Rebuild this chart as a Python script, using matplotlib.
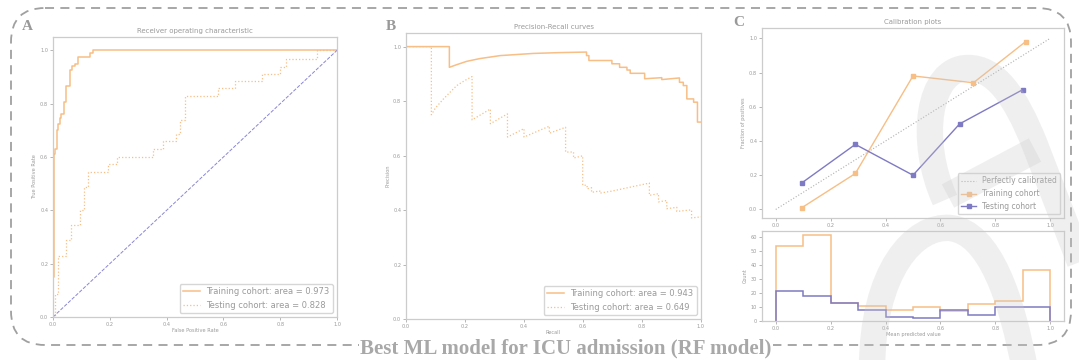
import matplotlib
matplotlib.use("Agg")
import matplotlib.pyplot as plt
from matplotlib.patches import FancyBboxPatch, PathPatch
from matplotlib.path import Path

# ROC data
roc_train_fpr = [0, 0, 0.0035, 0.0035, 0.008, 0.008, 0.015, 0.015, 0.018, 0.018, 0.026, 0.026, 0.029, 0.029,
                 0.039, 0.039, 0.047, 0.047, 0.059, 0.059, 0.067, 0.067, 0.079, 0.079, 0.088, 0.088,
                 0.13, 0.13, 0.141, 0.141, 0.224, 0.224, 1.0]
roc_train_tpr = [0, 0.15, 0.15, 0.611, 0.611, 0.63, 0.63, 0.70, 0.70, 0.725, 0.725, 0.746, 0.746, 0.76,
                 0.76, 0.806, 0.806, 0.866, 0.866, 0.925, 0.925, 0.94, 0.94, 0.95, 0.95, 0.975,
                 0.975, 0.99, 0.99, 1.0, 1.0, 1.0, 1.0]
roc_test_fpr = [0, 0.008, 0.008, 0.018, 0.018, 0.047, 0.047, 0.062, 0.062, 0.094, 0.094, 0.11, 0.11,
                0.124, 0.124, 0.192, 0.192, 0.224, 0.224, 0.353, 0.353, 0.389, 0.389, 0.434, 0.434,
                0.448, 0.448, 0.465, 0.465, 0.58, 0.58, 0.642, 0.642, 0.736, 0.736, 0.80, 0.80,
                0.819, 0.819, 0.93, 0.93, 1.0]
roc_test_tpr = [0, 0, 0.088, 0.088, 0.23, 0.23, 0.287, 0.287, 0.344, 0.344, 0.40, 0.40, 0.487, 0.487,
                0.543, 0.543, 0.574, 0.574, 0.60, 0.60, 0.63, 0.63, 0.66, 0.66, 0.686, 0.686, 0.74,
                0.74, 0.83, 0.83, 0.86, 0.86, 0.886, 0.886, 0.913, 0.913, 0.938, 0.938, 0.969,
                0.969, 1.0, 1.0]
roc_train_auc = 0.973
roc_test_auc = 0.828

# PR data
pr_train_rec = [0, 0.147, 0.147, 0.17, 0.206, 0.25, 0.319, 0.432, 0.52, 0.612, 0.612, 0.62, 0.62,
                0.698, 0.698, 0.724, 0.724, 0.749, 0.749, 0.76, 0.76, 0.809, 0.809, 0.867, 0.867,
                0.927, 0.927, 0.94, 0.94, 0.952, 0.952, 0.975, 0.975, 0.988, 0.988, 1.0]
pr_train_prec = [1.0, 1.0, 0.924, 0.933, 0.946, 0.956, 0.967, 0.975, 0.978, 0.980, 0.967, 0.967, 0.949,
                 0.949, 0.937, 0.937, 0.924, 0.924, 0.914, 0.914, 0.902, 0.902, 0.882, 0.886, 0.879,
                 0.885, 0.869, 0.869, 0.857, 0.857, 0.808, 0.808, 0.796, 0.796, 0.723, 0.723]
pr_test_rec = [0, 0.086, 0.086, 0.1, 0.127, 0.172, 0.2, 0.224, 0.224, 0.286, 0.286, 0.344, 0.344,
               0.40, 0.40, 0.486, 0.486, 0.541, 0.541, 0.568, 0.568, 0.599, 0.599, 0.614, 0.614,
               0.629, 0.629, 0.657, 0.657, 0.70, 0.743, 0.786, 0.825, 0.825, 0.856, 0.856, 0.884,
               0.884, 0.918, 0.918, 0.962, 0.968, 0.968, 1.0]
pr_test_prec = [1.0, 1.0, 0.75, 0.775, 0.808, 0.857, 0.876, 0.89, 0.731, 0.771, 0.717, 0.753, 0.668,
                0.699, 0.668, 0.708, 0.682, 0.704, 0.613, 0.613, 0.591, 0.599, 0.491, 0.491, 0.478,
                0.482, 0.465, 0.47, 0.462, 0.47, 0.48, 0.49, 0.499, 0.454, 0.46, 0.43, 0.435, 0.405,
                0.41, 0.395, 0.40, 0.40, 0.371, 0.375]
pr_train_ap = 0.943
pr_test_ap = 0.649

# calibration
cal_train_x = [0.095, 0.29, 0.50, 0.72, 0.91]
cal_train_y = [0.01, 0.21, 0.78, 0.74, 0.98]
cal_test_x = [0.095, 0.29, 0.50, 0.67, 0.90]
cal_test_y = [0.155, 0.38, 0.20, 0.50, 0.70]
bin_edges = [0.0, 0.1, 0.2, 0.3, 0.4, 0.5, 0.6, 0.7, 0.8, 0.9, 1.0]
hist_train = [53, 61, 13, 11, 8, 10, 7, 12, 14, 36]
hist_test = [21, 18, 13, 8, 3, 2, 8, 4, 10, 10]

orange = "#F7BE86"
purple = "#7F7AC4"
txt = "#9a9a9a"
spine = "#cccccc"

plt.rcParams["font.family"] = "DejaVu Sans"
fig = plt.figure(figsize=(10.79, 3.6), dpi=100)

# background frame with dashed rounded border
bg = fig.add_axes([0, 0, 1, 1])
bg.set_xlim(0, 1079)
bg.set_ylim(360, 0)
bg.axis("off")
box = FancyBboxPatch((11, 8), 1060, 337, boxstyle="round,pad=0,rounding_size=34",
                     fill=False, edgecolor="#a0a0a0", lw=1.3, linestyle=(0, (5, 3.5)))
bg.add_patch(box)
bg.text(566, 348, "Best ML model for ICU admission (RF model)", ha="center", va="center",
        fontsize=15, fontweight="bold", family="Liberation Serif", color="#a8a8a8",
        bbox=dict(facecolor="white", edgecolor="none", boxstyle="square,pad=0.05"))
for lab, x, y in [("A", 27, 26), ("B", 391, 26), ("C", 739, 23)]:
    bg.text(x, y, lab, ha="center", va="center", fontsize=11, fontweight="bold",
            family="Liberation Serif", color="#999999")


def style(ax, title=None, xlabel=None, ylabel=None):
    for s in ax.spines.values():
        s.set_color(spine)
        s.set_linewidth(0.9)
    ax.tick_params(labelsize=3.6, colors=txt, length=2, width=0.5, pad=1.5)
    if title:
        ax.set_title(title, fontsize=5, color=txt, pad=3)
    if xlabel:
        ax.set_xlabel(xlabel, fontsize=3.6, color=txt, labelpad=1)
    if ylabel:
        ax.set_ylabel(ylabel, fontsize=3.6, color=txt, labelpad=2)


# A: ROC
ax1 = fig.add_axes([53 / 1079, 1 - 317 / 360, 284 / 1079, 280 / 360])
ax1.plot(roc_train_fpr, roc_train_tpr, color=orange, lw=1.1,
         label="Training cohort: area = %0.3f" % roc_train_auc)
ax1.plot(roc_test_fpr, roc_test_tpr, color=orange, lw=0.9, ls=":",
         label="Testing cohort: area = %0.3f" % roc_test_auc)
ax1.plot([0, 1], [0, 1], color="#8a86d6", lw=0.7, ls="--")
ax1.set_xlim(0, 1)
ax1.set_ylim(0, 1.05)
style(ax1, "Receiver operating characteristic", "False Positive Rate", "True Positive Rate")
ax1.legend(loc="lower right", fontsize=6, labelcolor=txt, edgecolor=spine)

# B: PR
ax2 = fig.add_axes([406 / 1079, 1 - 319 / 360, 295 / 1079, 286 / 360])
ax2.plot(pr_train_rec, pr_train_prec, color=orange, lw=1.1,
         label="Training cohort: area = %0.3f" % pr_train_ap)
ax2.plot(pr_test_rec, pr_test_prec, color=orange, lw=0.9, ls=":",
         label="Testing cohort: area = %0.3f" % pr_test_ap)
ax2.set_xlim(0, 1)
ax2.set_ylim(0, 1.05)
style(ax2, "Precision-Recall curves", "Recall", "Precision")
ax2.legend(loc="lower right", fontsize=6, labelcolor=txt, edgecolor=spine)

# C: calibration
ax3 = fig.add_axes([762 / 1079, 1 - 218 / 360, 302 / 1079, 190 / 360])
ax3.plot([0, 1], [0, 1], color="#b0b0b0", ls=":", lw=0.8, label="Perfectly calibrated")
ax3.plot(cal_train_x, cal_train_y, "s-", color=orange, lw=1.0, ms=2.5, label="Training cohort")
ax3.plot(cal_test_x, cal_test_y, "s-", color=purple, lw=1.0, ms=2.5, label="Testing cohort")
ax3.set_xlim(-0.05, 1.05)
ax3.set_ylim(-0.05, 1.06)
style(ax3, "Calibration plots", None, "Fraction of positives")
ax3.legend(loc="lower right", fontsize=5.5, labelcolor=txt, edgecolor=spine)

ax4 = fig.add_axes([762 / 1079, 1 - 321 / 360, 302 / 1079, 90 / 360])
ax4.stairs(hist_train, bin_edges, color=orange, lw=1.1)
ax4.stairs(hist_test, bin_edges, color=purple, lw=1.1)
ax4.set_xlim(-0.05, 1.05)
ax4.set_ylim(0, 64)
style(ax4, None, "Mean predicted value", "Count")

# faint watermark drawn over the right panel
wm = fig.add_axes([0, 0, 1, 1], facecolor="none")
wm.set_xlim(0, 1079)
wm.set_ylim(360, 0)
wm.axis("off")
mv, c4, ln = Path.MOVETO, Path.CURVE4, Path.LINETO
shapes = [
    Path([(945, 200), (918, 140), (928, 68), (968, 68), (995, 68), (1015, 95), (1035, 145), (1085, 275)],
         [mv, c4, c4, c4, c4, c4, c4, ln]),
    Path([(948, 196), (1035, 150)], [mv, ln]),
    Path([(872, 370), (872, 270), (915, 225), (950, 228), (990, 232), (1012, 300), (1025, 370)],
         [mv, c4, c4, c4, c4, c4, c4]),
]
for p in shapes:
    wm.add_patch(PathPatch(p, fill=False, edgecolor="#c8c8c8", alpha=0.28, lw=19, capstyle="butt"))

fig.savefig("out.png", dpi=100)
